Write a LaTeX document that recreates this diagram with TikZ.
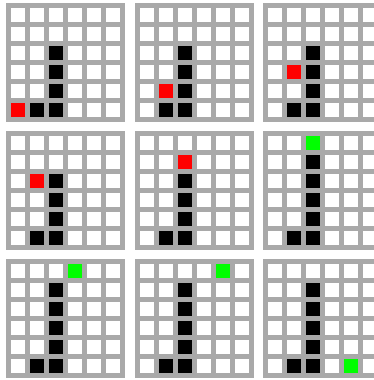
\documentclass[tikz,border=0pt]{standalone}
\definecolor{gridgray}{HTML}{A9A9A9}
\definecolor{agentred}{HTML}{FF0000}
\definecolor{goalgreen}{HTML}{00FF00}
\begin{document}
\begin{tikzpicture}[x=1pt,y=-1pt,
  cellfill/.style={fill=white},
  wallfill/.style={fill=black},
  agent/.style={fill=agentred},
  goal/.style={fill=goalgreen},
  board/.style={fill=gridgray}]
\useasboundingbox (0,0) rectangle (374,380);
\clip (0,0) rectangle (374,380);
\foreach \panx/\pany/\walls/\mark/\markrow/\markcol in {
  6/2.7/A/agent/5/0,
  134.5/2.7/A/agent/4/1,
  263/2.7/A/agent/3/1,
  6/131/A/agent/2/1,
  134.5/131/A/agent/1/2,
  263/131/B/goal/0/2,
  6/259.3/B/goal/0/3,
  134.5/259.3/B/goal/0/4,
  263/259.3/B/goal/5/4}{
  \begin{scope}[shift={(\panx,\pany)}]
    \fill[board] (0,0) rectangle (119,119);
    \foreach \rowidx in {0,1,2,3,4,5}{
      \foreach \colidx in {0,1,2,3,4,5}{
        \fill[cellfill] (5+19*\colidx,5+19*\rowidx) rectangle +(14,14);
      }
    }
    \foreach \rowidx/\colidx in {2/2,3/2,4/2,5/2,5/1}{
      \fill[wallfill] (5+19*\colidx,5+19*\rowidx) rectangle +(14,14);
    }
    \if\walls B
      \fill[wallfill] (5+19*2,5+19*1) rectangle +(14,14);
    \fi
    \fill[\mark] (5+19*\markcol,5+19*\markrow) rectangle +(14,14);
  \end{scope}
}
\end{tikzpicture}
\end{document}
